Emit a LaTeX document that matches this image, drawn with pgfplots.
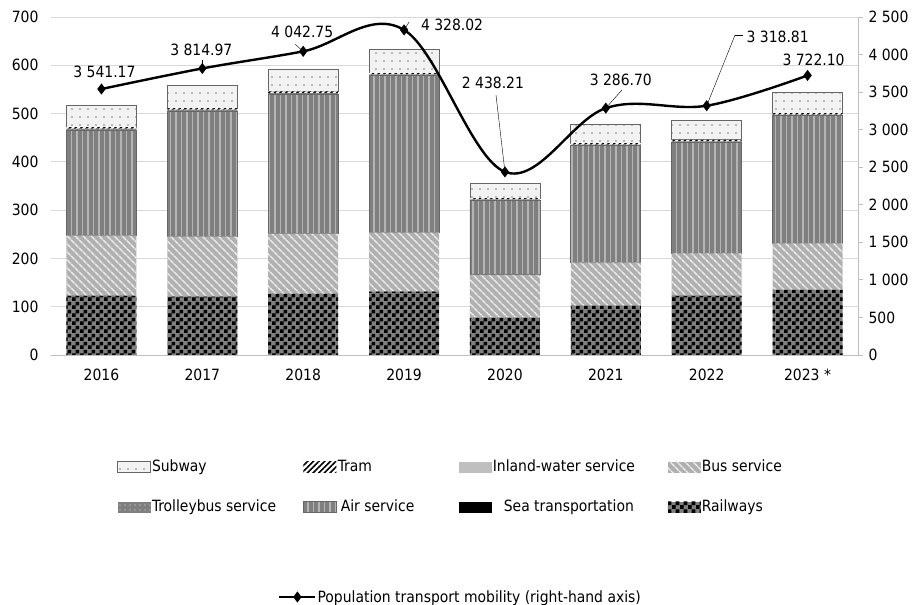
\documentclass[border=0pt]{standalone}
\usepackage{fontspec}
\setmainfont{DejaVu Sans Condensed}
\usepackage{pgfplots}
\pgfplotsset{compat=1.18}
\usepackage{pgfplotstable}
\usetikzlibrary{patterns,patterns.meta}

\definecolor{gridgray}{HTML}{D9D9D9}
\definecolor{axisgray}{HTML}{BFBFBF}
\definecolor{edgegray}{HTML}{666666}
\definecolor{midgray}{HTML}{7F7F7F}
\definecolor{lightgray}{HTML}{BFBFBF}
\definecolor{busgray}{HTML}{B0B0B0}
\definecolor{stripegray}{HTML}{B4B4B4}
\definecolor{paper}{HTML}{F2F2F2}

\newcommand\fs{\fontsize{15.5bp}{18bp}\selectfont}

% checkerboard with 4bp squares
\pgfdeclarepatternformonly{bigcheck}{\pgfpointorigin}{\pgfqpoint{8bp}{8bp}}{\pgfqpoint{8bp}{8bp}}{%
  \pgfpathrectangle{\pgfpointorigin}{\pgfqpoint{4bp}{4bp}}%
  \pgfpathrectangle{\pgfqpoint{4bp}{4bp}}{\pgfqpoint{4bp}{4bp}}%
  \pgfusepath{fill}}

% passenger turnover, bn passenger-km
\pgfplotstableread{
x  rail   sea   bus    inland air    trolley tram subway
0  122.2  0.05  124.9  0.6    217.4  3.5     3.4  44.9
1  120.8  0.05  124.2  0.6    258.9  3.4     3.5  46.9
2  126.3  0.05  124.3  0.6    287.8  3.3     3.6  46.2
3  131.2  0.05  122.1  0.6    324.5  2.7     2.8  49.7
4  77.3   0.03  88.4   0.4    153.9  2.2     2.6  30.4
5  101.5  0.03  89.7   0.5    241.6  2.5     3.0  39.3
6  122.2  0.04  88.3   0.5    229.2  2.4     3.1  40.0
7  134.6  0.04  96.6   0.5    263.8  2.4     3.1  42.8
}\transport

% mobility and label offsets (bp)
\pgfplotstableread{
x  y        lx   ly
0  3541.17  3    17
1  3814.97  -1   18.5
2  4042.75  -1   19
3  4328.02  48   5
4  2438.21  -12  89
5  3286.70  15   28
6  3318.81  71   69
7  3722.10  6    16
}\mobility

% leader line segments: start point and extent (data units)
\pgfplotstableread{
x      y        u       v
1      3814.97  0       113
2      4042.75  -0.079  93
3      4328.02  0.05    106
4      2438.21  -0.089  1025
5      3286.70  0.159   240
6      3318.81  0.281   941
6.281  4259.81  0.079   0
}\leaders

\pgfplotsset{
  swatch/.style={legend image code/.code={\path[##1] (0bp,-5.5bp) rectangle (33bp,5.5bp);}},
  railS/.style={draw=none, fill=midgray, postaction={pattern=bigcheck, pattern color=black}},
  seaS/.style={draw=none, fill=black},
  busS/.style={draw=none, fill=busgray,
    postaction={pattern={Lines[angle=-45, distance=6bp, line width=1.6bp]}, pattern color=white!88!gray}},
  inlandS/.style={draw=none, fill=lightgray},
  airS/.style={draw=edgegray, line width=0.8bp, fill=midgray,
    postaction={pattern={Lines[angle=90, distance=5.5bp, line width=1.6bp]}, pattern color=stripegray}},
  trolleyS/.style={draw=none, fill=midgray,
    postaction={pattern={Dots[radius=0.6bp, distance=5bp]}, pattern color=white!75!gray}},
  tramS/.style={draw=none, fill=white,
    postaction={pattern={Lines[angle=45, distance=4bp, line width=1.6bp]}, pattern color=black}},
  subwayS/.style={draw=edgegray, line width=0.8bp, fill=paper,
    postaction={pattern={Dots[radius=0.8bp, distance=8bp]}, pattern color=gray}},
}

\begin{document}
\begin{tikzpicture}
\useasboundingbox (0,0) rectangle (915bp,605bp);

\begin{axis}[
  at={(51bp,250bp)}, anchor=south west,
  scale only axis, width=807bp, height=338bp,
  xmin=-0.5, xmax=7.5, ymin=0, ymax=700,
  ybar stacked, bar width=70bp,
  xtick={0,...,7},
  xticklabels={2016,2017,2018,2019,2020,2021,2022,2023 *},
  ytick={0,100,...,700},
  axis x line*=bottom, axis y line*=left,
  x axis line style={draw=axisgray},
  y axis line style={draw=none},
  major tick length=0pt,
  tick style={draw=none},
  ymajorgrids, grid style={draw=gridgray, line width=0.8bp},
  tick label style={font=\fs},
  xticklabel style={yshift=-10bp},
  yticklabel style={xshift=-9bp},
  /pgf/number format/assume math mode=true,
  legend columns=4,
  legend cell align=left,
  legend style={at={(0.0818,-0.311)}, anchor=north west, draw=none, fill=none,
    font=\fs, row sep=26bp, inner sep=0pt,
    /tikz/every even column/.append style={column sep=0bp},
    nodes={inner sep=0pt, inner xsep=1bp, text height=11bp, text depth=3bp}},
]
\addplot[railS, forget plot] table[x=x, y=rail] {\transport};
\addplot[seaS, forget plot] table[x=x, y=sea] {\transport};
\addplot[busS, forget plot] table[x=x, y=bus] {\transport};
\addplot[inlandS, forget plot] table[x=x, y=inland] {\transport};
\addplot[airS, forget plot] table[x=x, y=air] {\transport};
\addplot[trolleyS, forget plot] table[x=x, y=trolley] {\transport};
\addplot[tramS, forget plot] table[x=x, y=tram] {\transport};
\addplot[subwayS, forget plot] table[x=x, y=subway] {\transport};

% key, two rows of four
\addlegendimage{swatch, subwayS}
\addlegendentry{\makebox[150bp][l]{Subway}}
\addlegendimage{swatch, tramS}
\addlegendentry{\makebox[120bp][l]{Tram}}
\addlegendimage{swatch, inlandS}
\addlegendentry{\makebox[174bp][l]{Inland-water service}}
\addlegendimage{swatch, busS}
\addlegendentry{\makebox[110bp][l]{Bus service}}
\addlegendimage{swatch, trolleyS}
\addlegendentry{\makebox[150bp][l]{Trolleybus service}}
\addlegendimage{swatch, airS}
\addlegendentry{\makebox[120bp][l]{\hspace{3bp}Air service}}
\addlegendimage{swatch, seaS}
\addlegendentry{\makebox[174bp][l]{\hspace{11bp}Sea transportation}}
\addlegendimage{swatch, railS}
\addlegendentry{\makebox[110bp][l]{Railways}}
\end{axis}

\begin{axis}[
  at={(51bp,250bp)}, anchor=south west,
  scale only axis, width=807bp, height=338bp,
  xmin=-0.5, xmax=7.5, ymin=0, ymax=4500,
  axis x line=none, axis y line*=right,
  y axis line style={draw=axisgray, line width=0.8bp},
  ytick={0,500,...,4500},
  yticklabels={0,500,1 000,1 500,2 000,2 500,3 000,3 500,4 000,2 500},
  tick align=outside, major tick length=5bp,
  ytick style={draw=axisgray, line width=0.8bp},
  tick label style={font=\fs},
  yticklabel style={xshift=2bp},
  /pgf/number format/.cd, fixed, fixed zerofill, precision=2, 1000 sep={\ }, assume math mode=true,
  /pgfplots/.cd,
  legend style={at={(0.2813,-0.716)}, anchor=west, draw=none, fill=none,
    font=\fs, inner sep=0pt, nodes={inner sep=0pt, inner xsep=1bp}},
  legend image code/.code={\draw[mark repeat=2, mark phase=2, #1]
    plot coordinates {(0bp,0bp) (18bp,0bp) (36bp,0bp)};},
]
% leader lines from points to their labels
\addplot[forget plot, black, line width=0.4bp, no marks,
  quiver={u=\thisrow{u}, v=\thisrow{v}}] table[x=x, y=y] {\leaders};

\addplot[black, line width=2.4bp, smooth, tension=0.6,
  mark=diamond*, mark size=3.6bp, mark options={solid}]
  table[x=x, y=y] {\mobility};
\addlegendentry{Population transport mobility (right-hand axis)}

% value labels
\addplot[forget plot, draw=none, no marks,
  point meta=y,
  visualization depends on={\thisrow{lx} \as \lx},
  visualization depends on={\thisrow{ly} \as \ly},
  nodes near coords,
  every node near coord/.append style={font=\fs, anchor=center,
    xshift=\lx bp, yshift=\ly bp, inner sep=0pt}]
  table[x=x, y=y] {\mobility};
\end{axis}

\end{tikzpicture}
\end{document}
